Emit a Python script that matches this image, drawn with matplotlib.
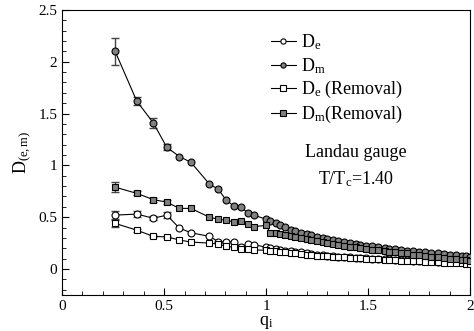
import matplotlib
matplotlib.use('Agg')
import matplotlib.pyplot as plt
from matplotlib.ticker import MultipleLocator

plt.rcParams['font.family'] = ['Liberation Serif', 'DejaVu Serif']
plt.rcParams['mathtext.fontset'] = 'custom'
plt.rcParams['mathtext.rm'] = 'Liberation Serif'
plt.rcParams['mathtext.it'] = 'Liberation Serif:italic'

# momenta
q = [0.26, 0.366, 0.447, 0.513, 0.575, 0.631, 0.722, 0.765, 0.804, 0.84, 0.876, 0.91, 0.94,
     1.0, 1.02, 1.05, 1.07, 1.09, 1.12, 1.14, 1.17, 1.2, 1.22, 1.25, 1.28, 1.3, 1.33, 1.35,
     1.38, 1.41, 1.44, 1.46, 1.49, 1.52, 1.55, 1.58, 1.6, 1.63, 1.66, 1.69, 1.72, 1.75, 1.78,
     1.81, 1.84, 1.87, 1.9, 1.93, 1.96, 1.98, 2.0]

d_e = [0.52, 0.53, 0.49, 0.52, 0.395, 0.35, 0.315, 0.265, 0.26, 0.265, 0.215, 0.24, 0.235,
       0.21, 0.20, 0.19, 0.185, 0.175, 0.17, 0.165, 0.16, 0.15, 0.145,
       0.14, 0.135, 0.13, 0.125, 0.12, 0.118, 0.115, 0.11, 0.108, 0.105,
       0.1, 0.098, 0.095, 0.092, 0.09, 0.087, 0.085, 0.082, 0.08, 0.078,
       0.075, 0.072, 0.07, 0.068, 0.066, 0.064, 0.062, 0.06]
d_m = [2.10, 1.62, 1.41, 1.175, 1.085, 1.03, 0.82, 0.77, 0.665, 0.61, 0.60, 0.54, 0.52,
       0.48, 0.46, 0.44, 0.42, 0.41, 0.38, 0.37, 0.35, 0.34, 0.33,
       0.31, 0.30, 0.29, 0.28, 0.27, 0.26, 0.25, 0.24, 0.235, 0.225,
       0.22, 0.21, 0.20, 0.195, 0.19, 0.18, 0.175, 0.17, 0.165, 0.16,
       0.155, 0.15, 0.145, 0.14, 0.135, 0.13, 0.125, 0.12]
d_e_rem = [0.44, 0.375, 0.315, 0.31, 0.28, 0.26, 0.25, 0.24, 0.22, 0.21, 0.19, 0.19, 0.185,
           0.18, 0.175, 0.17, 0.165, 0.16, 0.155, 0.15, 0.145, 0.14, 0.135,
           0.13, 0.127, 0.123, 0.12, 0.117, 0.113, 0.11, 0.107, 0.104, 0.1,
           0.097, 0.094, 0.091, 0.088, 0.085, 0.082, 0.079, 0.076, 0.073, 0.07,
           0.067, 0.064, 0.061, 0.058, 0.056, 0.054, 0.052, 0.05]
d_m_rem = [0.79, 0.73, 0.67, 0.645, 0.585, 0.585, 0.50, 0.48, 0.47, 0.455, 0.46, 0.43, 0.41,
           0.42, 0.35, 0.345, 0.34, 0.33, 0.32, 0.31, 0.30, 0.29, 0.28,
           0.27, 0.26, 0.25, 0.24, 0.23, 0.225, 0.215, 0.21, 0.2, 0.195,
           0.185, 0.18, 0.175, 0.165, 0.16, 0.155, 0.15, 0.14, 0.135, 0.13,
           0.12, 0.115, 0.11, 0.10, 0.095, 0.09, 0.085, 0.08]

# errors on the first few (low momentum) points
err_e = [0.04, 0.03, 0.02, 0.03]
err_m = [0.13, 0.04, 0.05, 0.03]
err_e_rem = [0.035, 0.015, 0.01, 0.01]
err_m_rem = [0.045, 0.02, 0.02, 0.02]

fig = plt.figure(figsize=(4.74, 3.31), dpi=100)
ax = fig.add_axes([0.131, 0.109, 0.861, 0.861])

grey = '#808080'
ms = 5
series = [
    (d_e, err_e, 'o', 'white', r'D$_\mathrm{e}$'),
    (d_m, err_m, 'o', grey, r'D$_\mathrm{m}$'),
    (d_e_rem, err_e_rem, 's', 'white', r'D$_\mathrm{e}$ (Removal)'),
    (d_m_rem, err_m_rem, 's', grey, r'D$_\mathrm{m}$(Removal)'),
]
for vals, err, mk, fc, lab in series:
    n = len(err)
    ax.errorbar(q[:n], vals[:n], yerr=err, fmt='none', ecolor='#444444',
                elinewidth=1.0, capsize=3, capthick=1.0, zorder=2)
    ax.plot(q, vals, marker=mk, ms=ms, mfc=fc, mec='black', mew=0.8,
            color='black', lw=0.8, label=lab, zorder=3)

ax.set_xlim(0, 2)
ax.set_ylim(-0.25, 2.5)
ax.xaxis.set_minor_locator(MultipleLocator(0.1))
ax.yaxis.set_minor_locator(MultipleLocator(0.1))
ax.set_xticks([0, 0.5, 1, 1.5, 2])
ax.set_xticklabels(['0', '0.5', '1', '1.5', '2'])
ax.set_yticks([0, 0.5, 1, 1.5, 2, 2.5])
ax.set_yticklabels(['0', '0.5', '1', '1.5', '2', '2.5'])
ax.tick_params(which='both', direction='in', labelsize=11)
ax.tick_params(which='major', length=5)
ax.tick_params(which='minor', length=3)

ax.set_xlabel(r'q$_\mathrm{i}$', fontsize=13, labelpad=1)
ax.set_ylabel(r'D$_\mathrm{(e,m)}$', fontsize=13, labelpad=4)

ax.legend(loc='upper left', bbox_to_anchor=(0.48, 0.965), frameon=False,
          fontsize=13, handlelength=1.4, handletextpad=0.3, labelspacing=0.2,
          borderpad=0.2, markerscale=0.75)

ax.text(1.44, 1.12, 'Landau gauge', fontsize=13, ha='center', va='center')
ax.text(1.44, 0.87, r'T/T$_\mathrm{c}$=1.40', fontsize=13, ha='center', va='center')

fig.savefig('out.png', dpi=100)
